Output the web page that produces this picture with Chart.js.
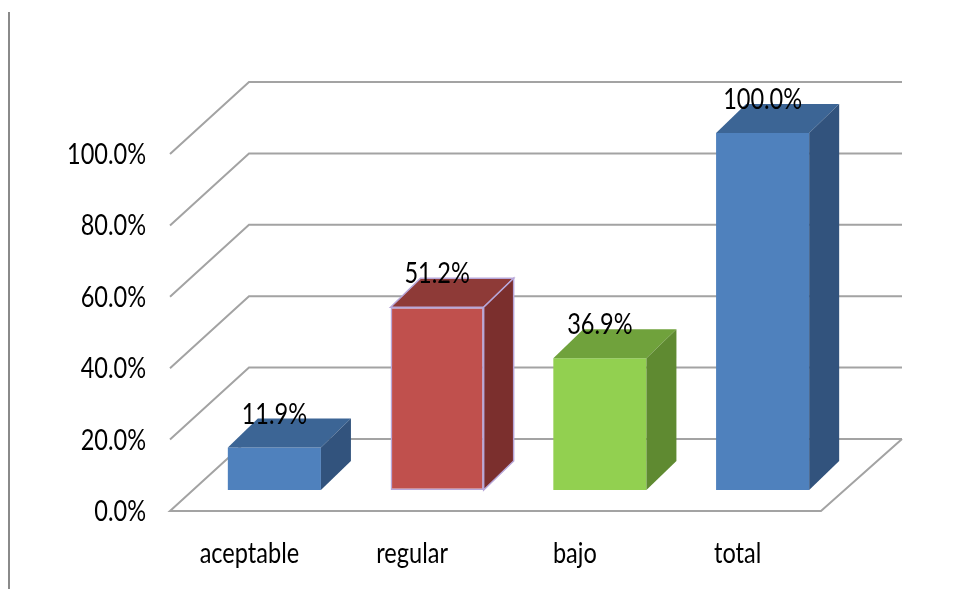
<!DOCTYPE html>
<html>
<head>
<meta charset="utf-8">
<script src="https://cdn.jsdelivr.net/npm/chart.js@4.4.1/dist/chart.umd.min.js"></script>
<style>
  html, body { margin: 0; padding: 0; background: #ffffff; }
  canvas { display: block; }
</style>
</head>
<body>
<canvas id="chart" width="957" height="589"></canvas>
<script>
// Categories and their percentages
const categories = ['aceptable', 'regular', 'bajo', 'total'];
const percentages = [11.9, 51.2, 36.9, 100.0];
// Value axis ticks (percent)
const tickValues = [0, 20, 40, 60, 80, 100];

// Face colours per bar: front, side, top, outline
const frontColors = ['#4f81bd', '#c0504d', '#92d050', '#4f81bd'];
const sideColors  = ['#32537d', '#7b2f2d', '#5f8a31', '#32537d'];
const topColors   = ['#3c6595', '#8e3a37', '#70a23c', '#3c6595'];
const edgeColors  = [null, '#b7a6d8', null, null];

const FONT = "28px Lato, 'DejaVu Sans Condensed', sans-serif";
const TEXT_W = 79; // width of the widest axis label, "100.0%"

// 3D geometry offsets relative to the plane of the bar fronts
const BACK = { dx: 56, dy: -51 };   // back wall
const FRONT = { dx: -23, dy: 21 };  // front edge of the floor
const DEPTH = { dx: 30, dy: -29 };  // bar depth

const pct = v => v.toFixed(1) + '%';

// narrow text: draws with a horizontal squeeze so labels keep their height
let squeeze = 1;
function label(ctx, text, x, y, align) {
  ctx.save();
  ctx.font = FONT;
  ctx.fillStyle = '#000';
  ctx.textAlign = align;
  ctx.textBaseline = 'middle';
  ctx.translate(x, y);
  ctx.scale(squeeze, 1);
  ctx.fillText(text, 0, 0);
  ctx.restore();
}

const scene3d = {
  id: 'scene3d',
  beforeDatasetsDraw(chart) {
    const { ctx, chartArea: a, scales: { y } } = chart;
    ctx.save();
    ctx.font = FONT;
    squeeze = TEXT_W / ctx.measureText('100.0%').width;
    ctx.strokeStyle = '#a3a3a3';
    ctx.lineWidth = 2;
    // back wall gridlines with diagonals to the front
    tickValues.forEach(v => {
      const yy = y.getPixelForValue(v);
      ctx.beginPath();
      ctx.moveTo(a.right + BACK.dx + 2, yy + BACK.dy);
      ctx.lineTo(a.left + BACK.dx, yy + BACK.dy);
      ctx.lineTo(a.left + FRONT.dx, yy + FRONT.dy);
      if (v === 0) {
        // floor: front edge and right side
        ctx.lineTo(a.right + FRONT.dx, yy + FRONT.dy);
        ctx.lineTo(a.right + BACK.dx + 2, yy + BACK.dy);
      }
      ctx.stroke();
    });
    // outer left border
    ctx.strokeStyle = '#8a8a8a';
    ctx.lineWidth = 2;
    ctx.beginPath();
    ctx.moveTo(9, 12);
    ctx.lineTo(9, 589);
    ctx.stroke();
    ctx.restore();
    // value axis labels
    tickValues.forEach(v => {
      label(ctx, pct(v), 146, y.getPixelForValue(v) + FRONT.dy + 1, 'right');
    });
    // category labels
    chart.getDatasetMeta(0).data.forEach((bar, i) => {
      label(ctx, categories[i], bar.x - 25, 554, 'center');
    });
  },
  afterDatasetsDraw(chart) {
    const { ctx } = chart;
    const meta = chart.getDatasetMeta(0);
    ctx.save();
    meta.data.forEach((bar, i) => {
      const l = bar.x - bar.width / 2, r = bar.x + bar.width / 2;
      const t = bar.y, b = bar.base;
      // top face
      ctx.beginPath();
      ctx.moveTo(l, t);
      ctx.lineTo(r, t);
      ctx.lineTo(r + DEPTH.dx, t + DEPTH.dy);
      ctx.lineTo(l + DEPTH.dx, t + DEPTH.dy);
      ctx.closePath();
      ctx.fillStyle = topColors[i];
      ctx.fill();
      if (edgeColors[i]) { ctx.strokeStyle = edgeColors[i]; ctx.lineWidth = 1.5; ctx.stroke(); }
      // side face
      ctx.beginPath();
      ctx.moveTo(r, t);
      ctx.lineTo(r + DEPTH.dx, t + DEPTH.dy);
      ctx.lineTo(r + DEPTH.dx, b + DEPTH.dy);
      ctx.lineTo(r, b);
      ctx.closePath();
      ctx.fillStyle = sideColors[i];
      ctx.fill();
      if (edgeColors[i]) { ctx.stroke(); }
    });
    ctx.restore();
    // value labels above each bar
    meta.data.forEach((bar, i) => {
      label(ctx, pct(percentages[i]), bar.x, bar.y + DEPTH.dy - 4, 'center');
    });
  }
};

new Chart(document.getElementById('chart'), {
  type: 'bar',
  data: {
    labels: categories,
    datasets: [{
      data: percentages,
      backgroundColor: frontColors,
      borderColor: edgeColors.map(c => c || 'rgba(0,0,0,0)'),
      borderWidth: edgeColors.map(c => (c ? 1.5 : 0)),
      borderSkipped: false,
      barPercentage: 0.572,
      categoryPercentage: 1.0
    }]
  },
  options: {
    responsive: false,
    animation: false,
    devicePixelRatio: 1,
    layout: { padding: { left: 193, right: 113, top: 133, bottom: 99 } },
    plugins: { legend: { display: false }, tooltip: { enabled: false } },
    scales: {
      x: { display: false },
      y: { display: false, min: 0, max: 100 }
    }
  },
  plugins: [scene3d]
});
</script>
</body>
</html>
